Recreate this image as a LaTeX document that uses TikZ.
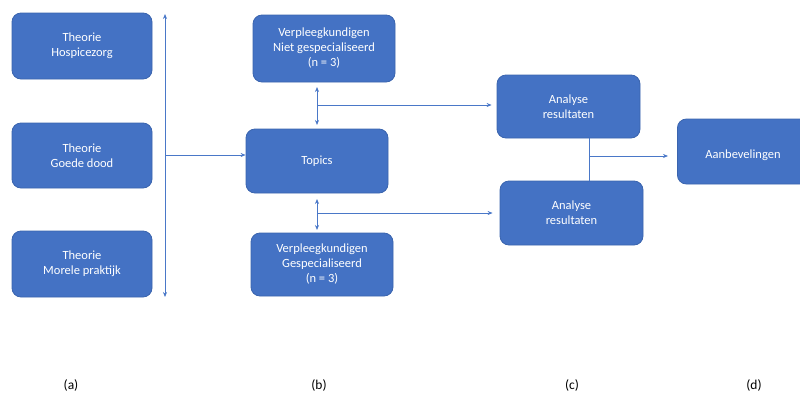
\documentclass[tikz,border=0pt]{standalone}
\usepackage{fontspec}
\setmainfont{Carlito}
\usetikzlibrary{arrows.meta}
\definecolor{boxblue}{HTML}{4472C4}
\definecolor{boxedge}{HTML}{3A64AE}
\definecolor{linkblue}{HTML}{4A78C8}
\tikzset{
  stepbox/.style={draw=boxedge, line width=0.8pt, fill=boxblue, rounded corners=9pt,
    text=white, align=center, font=\fontsize{12.5}{15}\selectfont, inner sep=0pt},
  link/.style={draw=linkblue, line width=0.7pt},
  tip/.style={-{Stealth[length=5pt,width=4pt]}},
  tips/.style={{Stealth[length=5pt,width=4pt]}-{Stealth[length=5pt,width=4pt]}},
  tag/.style={font=\fontsize{13.5}{16}\selectfont, text=black}
}
\begin{document}
\begin{tikzpicture}[x=1pt,y=-1pt]
\useasboundingbox (0,0) rectangle (800,394);
\clip (0,0) rectangle (800,394);

% column (a): theory boxes
\node[stepbox, minimum width=140pt, minimum height=66pt] (hos) at (82,46) {Theorie\\Hospicezorg};
\node[stepbox, minimum width=140pt, minimum height=65pt] (goe) at (82,155.5) {Theorie\\Goede dood};
\node[stepbox, minimum width=140pt, minimum height=66pt] (mor) at (82,264) {Theorie\\Morele praktijk};

% column (b)
\node[stepbox, minimum width=142pt, minimum height=67pt] (niet) at (324,48.5) {Verpleegkundigen\\Niet gespecialiseerd\\(n = 3)};
\node[stepbox, minimum width=142pt, minimum height=64pt] (top) at (317,161) {Topics};
\node[stepbox, minimum width=142pt, minimum height=63pt] (gesp) at (322,264.5) {Verpleegkundigen\\Gespecialiseerd\\(n = 3)};

% column (c)
\node[stepbox, minimum width=143pt, minimum height=63pt] (an1) at (568.5,106.5) {Analyse\\resultaten};
\node[stepbox, minimum width=143pt, minimum height=64pt] (an2) at (571.5,213) {Analyse\\resultaten};

% column (d)
\node[stepbox, minimum width=134pt, minimum height=65pt, anchor=west] (aan) at (677,151.5) {};
\node[text=white, font=\fontsize{12.5}{15}\selectfont] (aant) at (743,155) {Aanbevelingen};

% theory bracket line
\coordinate (vtop) at (165,14);
\coordinate (vbot) at (165,297);
\coordinate (vmid) at (165,155);
\draw[link, tips] (vtop) -- (vbot);
\draw[link, tip] (vmid) -- (top.west |- vmid);

% links between interviews and topics
\coordinate (u1) at (317,87);
\coordinate (u2) at (317,125);
\draw[link, tips] (u1) -- (u2);
\coordinate (uj) at (317,105);
\draw[link, tip] (uj) -- ([xshift=-5pt]an1.west |- uj);

\coordinate (l1) at (317,199);
\coordinate (l2) at (317,230);
\draw[link, tips] (l1) -- (l2);
\coordinate (lj) at (317,213);
\draw[link, tip] (lj) -- ([xshift=-7pt]an2.west |- lj);

% analyses joined to recommendations
\coordinate (aj) at (589,156);
\draw[link] (an1.south -| aj) -- (an2.north -| aj);
\draw[link, tip] (aj) -- ([xshift=-9pt]aan.west |- aj);

% column tags
\node[tag] (ta) at (71,385) {(a)};
\node[tag] (tb) at (319,385) {(b)};
\node[tag] (tc) at (572,385) {(c)};
\node[tag] (td) at (754,385) {(d)};
\end{tikzpicture}
\end{document}
